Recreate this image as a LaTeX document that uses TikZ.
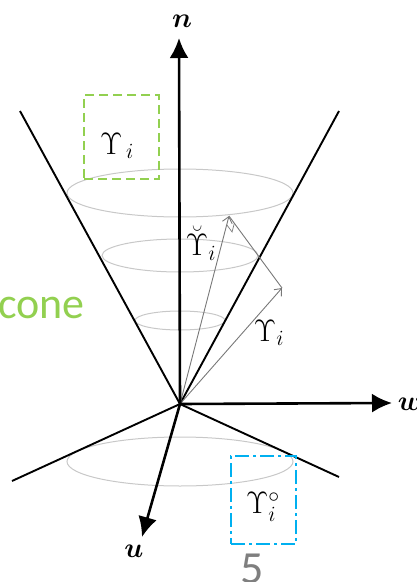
\documentclass[tikz,border=0pt]{standalone}
\usepackage{fix-cm}
\usepackage{amsmath,bm}
\usepackage{fontspec}
\newfontfamily\calib{Carlito}
\usetikzlibrary{arrows.meta,calc}
\definecolor{cgreen}{RGB}{146,208,80}
\definecolor{cblue}{RGB}{0,176,240}
\definecolor{cgray}{RGB}{127,127,127}
\definecolor{ellgray}{RGB}{200,200,200}
\definecolor{vecgray}{RGB}{120,120,120}
\tikzset{
  axisline/.style={line width=2.6pt,-{Latex[length=20pt,width=19pt]}},
  coneline/.style={line width=1.9pt},
  ell/.style={draw=ellgray,line width=1pt},
  vec/.style={draw=vecgray,line width=0.9pt,-{Straight Barb[length=6pt,width=10pt]}},
  perp/.style={draw=vecgray,line width=0.9pt},
  mlab/.style={inner sep=0pt,font=\fontsize{28}{32}\selectfont},
  ulab/.style={inner sep=0pt,font=\fontsize{31}{34}\selectfont},
  gbox/.style={draw=cgreen,line width=2pt,dash pattern=on 9pt off 5pt,inner sep=0pt},
  bbox/.style={draw=cblue,line width=2pt,dash pattern=on 14pt off 4pt on 3pt off 4pt,inner sep=0pt},
}
\begin{document}
\begin{tikzpicture}[x=1pt,y=-1pt]
\useasboundingbox (0,0) rectangle (417,582);
% key points
\coordinate (O) at (180,404);
\coordinate (nT) at (179,38);
\coordinate (wT) at (392,403);
\coordinate (uT) at (142,537);
\coordinate (cl) at (20,111);
\coordinate (cr) at (339,111);
\coordinate (dl) at (12,481);
\coordinate (dr) at (339,477);
\coordinate (T) at (229,216);
\coordinate (G) at (282,288);
% ellipses
\draw[ell] (180,193) ellipse [x radius=113, y radius=24];
\draw[ell] (180,255.5) ellipse [x radius=78, y radius=16.5];
\draw[ell] (180,320.5) ellipse [x radius=45, y radius=9.5];
\draw[ell] (180,461.5) ellipse [x radius=113, y radius=24.5];
% cone lines
\draw[coneline] (cl) -- (O) -- (cr);
\draw[coneline] (dl) -- (O) -- (dr);
% vectors
\draw[vec] (O) -- (T);
\draw[vec] (O) -- (G);
\draw[perp] (T) -- (G);
\coordinate (ra) at ($(T)!9pt!(O)$);
\coordinate (rb) at ($(T)!9pt!(G)$);
\draw[perp,line width=0.7pt] (ra) -- ($(ra)+(rb)-(T)$) -- (rb);
% axes
\draw[axisline] (O) -- (nT);
\draw[axisline] (O) -- (wT);
\draw[axisline] (O) -- (uT);
\node[mlab] (nl) at (182,21) {$\bm{n}$};
\node[mlab] (wl) at (410,404) {$\bm{w}$};
\node[mlab] (ul) at (134,551) {$\bm{u}$};
% boxes
\node[gbox,minimum width=75pt,minimum height=84pt] (gb) at (121.5,137) {};
\node[ulab] (gl) at (117,146) {$\Upsilon_{\,i}$};
\node[bbox,minimum width=65pt,minimum height=88pt] (bb) at (263.5,500) {};
\node[ulab] (bl) at (263,507) {$\Upsilon^{\circ}_{i}$};
% vector labels
\node[ulab] (tl) at (201,243) {$\breve{\Upsilon}_{i}$};
\node[ulab] (gml) at (269,333) {$\Upsilon_{i}$};
% texts
\node[anchor=base west,inner sep=0pt,text=cgreen,font=\calib\fontsize{44}{50}\selectfont] (cone) at (-2,318) {cone};
\node[anchor=base,inner sep=0pt,text=cgray,font=\calib\fontsize{46}{50}\selectfont] (pg) at (252.5,583) {5};
\end{tikzpicture}
\end{document}
